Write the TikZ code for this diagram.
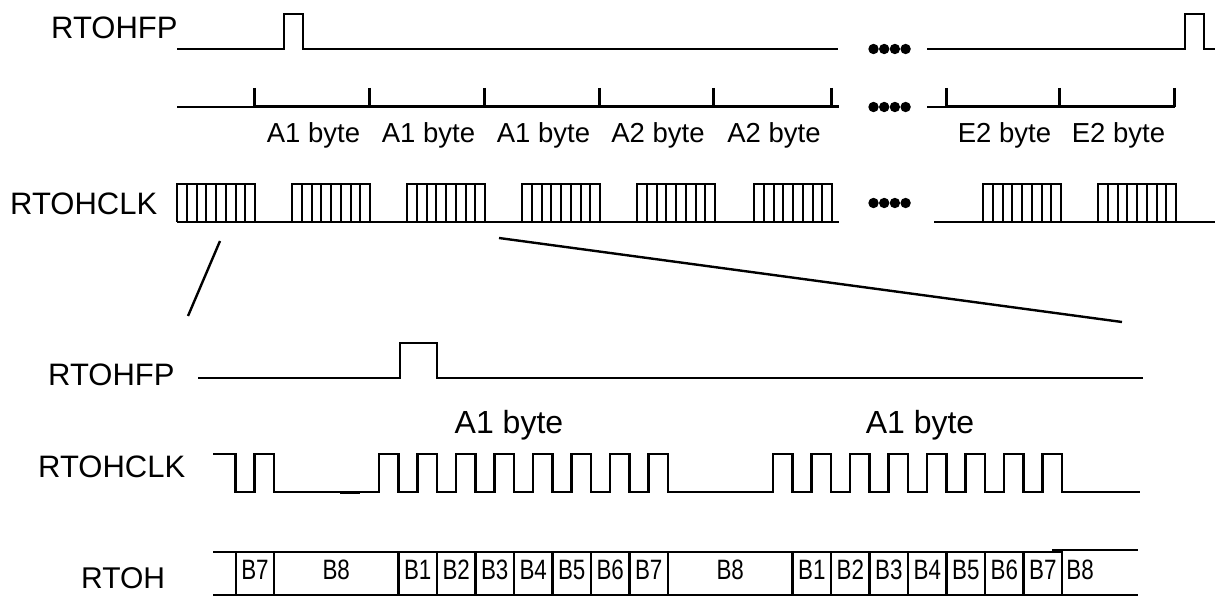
\documentclass[tikz,border=0pt]{standalone}
\usepackage{fontspec}
\setmainfont{Liberation Sans}
\newfontfamily\narrowsans{Liberation Sans}[FakeStretch=0.8]

\begin{document}
\begin{tikzpicture}[
    x=1pt, y=-1pt,
    line width=2.4pt,
    every node/.style = {inner sep=0pt, anchor=base west},
    sig/.style = {font=\fontsize{31}{31}\selectfont},
    bytelbl/.style = {font=\fontsize{27.5}{27.5}\selectfont, anchor=base},
    bigbyte/.style = {font=\fontsize{32}{32}\selectfont, anchor=base},
    bitlbl/.style = {font=\narrowsans\fontsize{28}{28}\selectfont, anchor=base},
    wave/.style = {line width=2.4pt, line join=miter},
    tickline/.style = {line width=3pt},
    burstline/.style = {line width=2pt}
  ]
  \useasboundingbox (0,0) rectangle (1221,596);

  % upper overview
  \node[sig] (fptop) at (50,39) {RTOHFP};
  \draw[wave] (177,49) -- (284,49) -- (284,14) -- (303,14) -- (303,49) -- (838,49);
  \draw[wave] (927,49) -- (1185,49) -- (1185,14) -- (1204,14) -- (1204,49) -- (1215,49);

  \draw[line width=1.8pt] (177,107) -- (254,107);
  \draw[tickline] (254,107) -- (839,107);
  \draw[line width=1.8pt] (927,107) -- (946,107);
  \draw[tickline] (946,107) -- (1175,107);
  \foreach \t in {254,369,484,599,713,831,946,1059,1174}
    \draw[tickline] (\t,88) -- (\t,107);
  \foreach \a/\b/\txt [count=\i] in {254/369/A1 byte, 369/484/A1 byte, 484/599/A1 byte,
      599/713/A2 byte, 713/831/A2 byte, 946/1059/E2 byte, 1059/1174/E2 byte}
    \node[bytelbl] (byte\i) at ({(\a+\b)/2+2},143) {\txt};

  \node[sig] (clktop) at (9,215) {RTOHCLK};
  \draw[wave] (177,222) -- (839,222);
  \draw[wave] (934,222) -- (1215,222);
  \foreach \e in {255,370,485,600,715,832,1061,1176} {
    \draw[wave] (\e-78,222) -- (\e-78,184) -- (\e,184) -- (\e,222);
    \foreach \k in {1,...,7}
      \draw[burstline] (\e-78+9.75*\k,184) -- (\e-78+9.75*\k,222);
  }

  \foreach \y in {49,107,203}
    \foreach \k in {0,...,3}
      \fill (873.5+10.7*\k,\y) circle[radius=5.2pt];

  % zoom lines
  \coordinate (zoomtopA) at (220,241);
  \coordinate (zoombotA) at (188,316);
  \coordinate (zoomtopB) at (499,238);
  \coordinate (zoombotB) at (1122,322);
  \draw (zoomtopA) -- (zoombotA);
  \draw (zoomtopB) -- (zoombotB);

  % lower detail
  \node[sig] (fpbot) at (47,385) {RTOHFP};
  \draw[wave] (198,378) -- (400,378) -- (400,343) -- (437,343) -- (437,378) -- (1143,378);

  \node[bigbyte] (bigA) at (509,433) {A1 byte};
  \node[bigbyte] (bigB) at (920,433) {A1 byte};

  \node[sig] (clkbot) at (37,477) {RTOHCLK};
  \draw[wave] (213,454) -- (235.5,454) -- (235.5,492) -- (254.5,492) -- (254.5,454) -- (274,454) -- (274,492)
    \foreach \s in {379,773} {
      \foreach \k in {0,...,7} {
        -- (\s+38.5*\k,492) -- (\s+38.5*\k,454) -- (\s+38.5*\k+19.5,454) -- (\s+38.5*\k+19.5,492)
      }
    } -- (1140,492);
  \draw[line width=3.4pt] (340,492.5) -- (360,492.5);

  \node[sig, font=\fontsize{30}{30}\selectfont] (bus) at (80,588) {RTOH};
  \draw (213,552) -- (236,552) -- (236,595) -- (213,595);
  \foreach \a/\b/\txt [count=\i] in {236/274/B7, 274/398.5/B8, 398.5/437/B1, 437/475.5/B2,
      475.5/514/B3, 514/552.5/B4, 552.5/591/B5, 591/629.5/B6, 629.5/668/B7, 668/792.5/B8,
      792.5/831/B1, 831/869.5/B2, 869.5/908/B3, 908/946.5/B4, 946.5/985/B5, 985/1023.5/B6,
      1023.5/1062/B7} {
    \draw (\a,552) rectangle (\b,595);
    \node[bitlbl] (bit\i) at ({(\a+\b)/2},579) {\txt};
  }
  \draw (1052,550) -- (1138,550);
  \draw (1041,595) -- (1138,595);
  \node[bitlbl] (bitlast) at (1080,579) {B8};
\end{tikzpicture}
\end{document}
